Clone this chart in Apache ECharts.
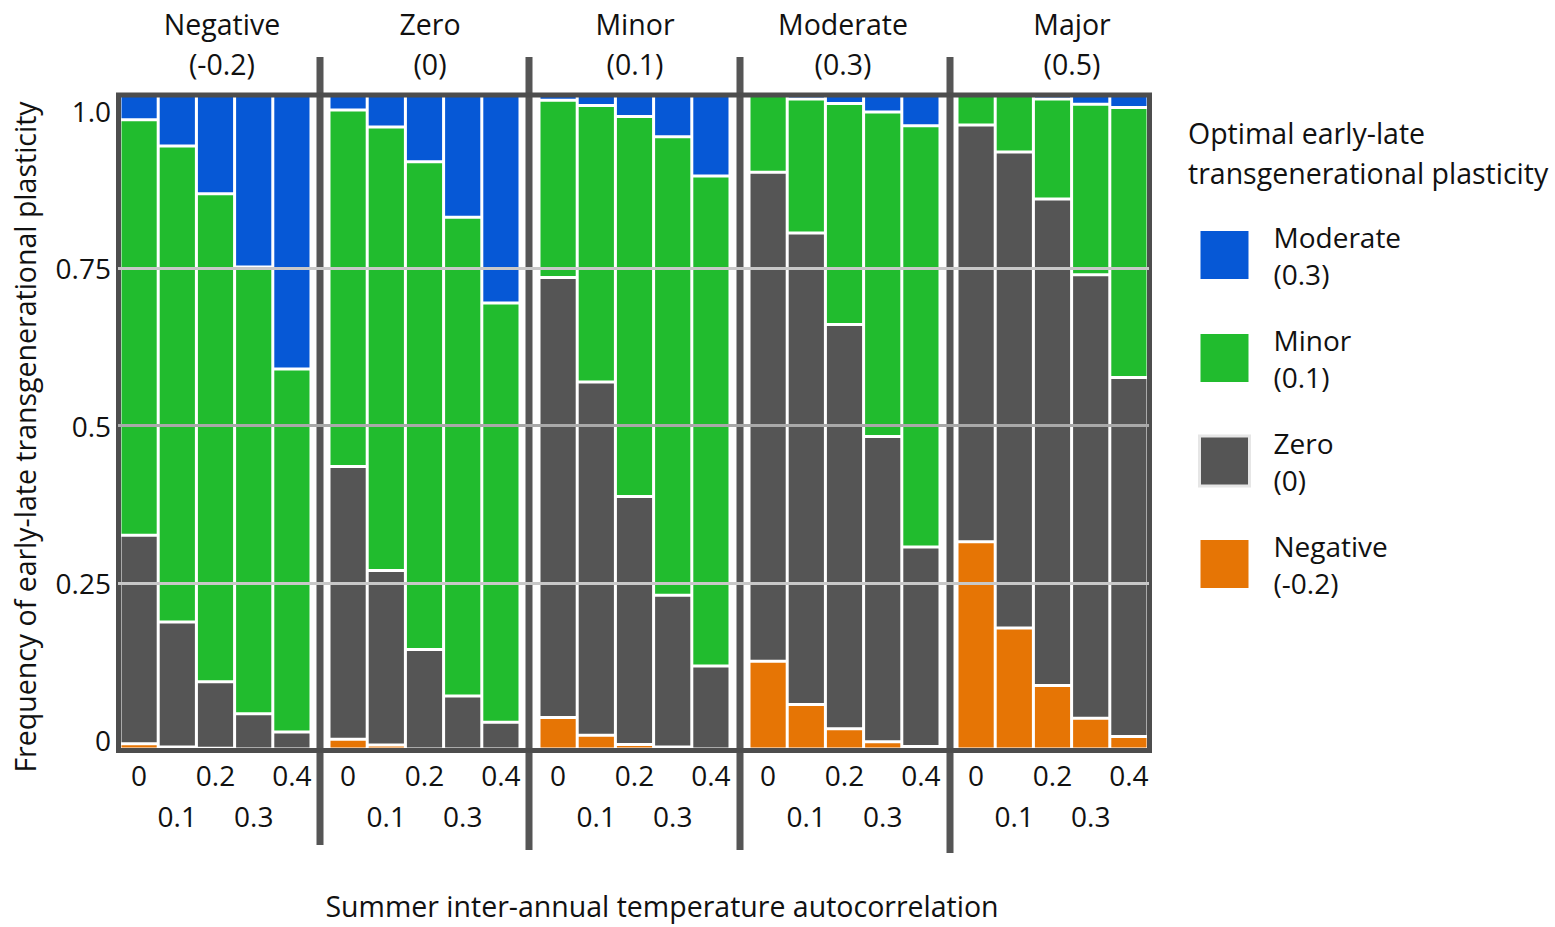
<!DOCTYPE html>
<html>
<head>
<meta charset="utf-8">
<script src="https://cdn.jsdelivr.net/npm/echarts@6/dist/echarts.min.js"></script>
<style>
  html, body { margin: 0; padding: 0; background: #fff; }
  #chart { width: 1555px; height: 927px; }
</style>
</head>
<body>
<div id="chart"></div>
<script>
// ---- Data ----
const panelNames = ['Negative\n(-0.2)', 'Zero\n(0)', 'Minor\n(0.1)', 'Moderate\n(0.3)', 'Major\n(0.5)'];
const autocorr = ['0', '0.1', '0.2', '0.3', '0.4'];
const categoryNames = ['Negative\n(-0.2)', 'Zero\n(0)', 'Minor\n(0.1)', 'Moderate\n(0.3)'];
const negativeShare = [
  [0.008, 0.003, 0.001, 0, 0],
  [0.015, 0.006, 0, 0, 0],
  [0.048, 0.021, 0.007, 0.003, 0],
  [0.134, 0.068, 0.031, 0.011, 0.004],
  [0.317, 0.185, 0.097, 0.047, 0.019]
];
const zeroShare = [
  [0.319, 0.191, 0.102, 0.054, 0.026],
  [0.417, 0.267, 0.152, 0.081, 0.041],
  [0.673, 0.540, 0.379, 0.232, 0.127],
  [0.748, 0.721, 0.618, 0.467, 0.305],
  [0.637, 0.728, 0.744, 0.678, 0.549]
];
const minorShare = [
  [0.635, 0.728, 0.746, 0.683, 0.555],
  [0.545, 0.678, 0.746, 0.732, 0.641],
  [0.271, 0.423, 0.581, 0.701, 0.749],
  [0.118, 0.205, 0.338, 0.496, 0.644],
  [0.046, 0.087, 0.153, 0.261, 0.413]
];
const moderateShare = [
  [0.038, 0.078, 0.151, 0.263, 0.419],
  [0.023, 0.049, 0.102, 0.187, 0.318],
  [0.008, 0.016, 0.033, 0.064, 0.124],
  [0, 0.006, 0.013, 0.026, 0.047],
  [0, 0, 0.006, 0.014, 0.019]
];
const yTickLabels = { 0: '0', 0.25: '0.25', 0.5: '0.5', 0.75: '0.75', 1: '1.0' };

// ---- Styling / layout ----
const FONT = 'Open Sans';
const colors = ['#e67505', '#555555', '#21bc2e', '#0658d6'];
const shares = [negativeShare, zeroShare, minorShare, moderateShare];
const panelLeft = [120, 329, 539, 749, 957];
const panelWidth = 191;
const plotTop = 95, plotHeight = 654;

const grids = [], xAxes = [], yAxes = [], series = [];
panelLeft.forEach((left, p) => {
  grids.push({ left: left, top: plotTop, width: panelWidth, height: plotHeight });
  xAxes.push({
    type: 'category', gridIndex: p, data: autocorr,
    axisLine: { show: false }, axisTick: { show: false },
    axisLabel: {
      interval: 0, margin: 5, fontSize: 28, lineHeight: 41, color: '#111', fontFamily: FONT,
      formatter: (v, i) => (i % 2 ? '\n' + v : v)
    },
    splitLine: { show: false }
  });
  yAxes.push({ type: 'value', gridIndex: p, min: 0, max: 1, show: false, splitLine: { show: false } });
  categoryNames.forEach((name, k) => {
    series.push({
      type: 'bar', name: name, stack: 'panel' + p,
      xAxisIndex: p, yAxisIndex: p,
      data: shares[k][p],
      barCategoryGap: '0%',
      itemStyle: { color: colors[k], borderColor: '#ffffff', borderWidth: 1.5 },
      emphasis: { disabled: true }
    });
  });
});

// overlay grid for gridlines & y tick labels (drawn above the bars as in the reference)
grids.push({ left: 118, top: 111, width: 1031, height: 629 });
xAxes.push({ type: 'value', gridIndex: 5, show: false, min: 0, max: 1, splitLine: { show: false } });
yAxes.push({
  type: 'value', gridIndex: 5, min: 0, max: 1, interval: 0.25, z: 6,
  axisLine: { show: false }, axisTick: { show: false },
  axisLabel: { margin: 7, fontSize: 28, color: '#111', fontFamily: FONT, formatter: v => yTickLabels[v] },
  splitLine: { show: true, lineStyle: { width: 3, color: ['rgba(0,0,0,0)', '#c8c8c8', '#a9a9a9', '#c8c8c8', 'rgba(0,0,0,0)'] } }
});

const titleCenters = [222, 430, 635, 843, 1072];
const graphics = [];
titleCenters.forEach((cx, i) => {
  graphics.push({
    type: 'text', x: cx, y: 4, z: 10,
    style: { text: panelNames[i], fontSize: 28.5, lineHeight: 40, fontFamily: FONT, fill: '#111', align: 'center', verticalAlign: 'top' }
  });
});
// separators
[[320, 845], [529, 850], [740, 850], [950, 853]].forEach(([x, y2]) => {
  graphics.push({ type: 'line', z: 3, shape: { x1: x, y1: 57, x2: x, y2: y2 }, style: { stroke: '#555555', lineWidth: 7 } });
});
// frame
graphics.push({ type: 'rect', z: 3, shape: { x: 118.5, y: 95, width: 1031, height: 655.5 }, style: { fill: 'none', stroke: '#4d4d4d', lineWidth: 5 } });
// axis titles
graphics.push({
  type: 'text', x: 662, y: 906, z: 10,
  style: { text: 'Summer inter-annual temperature autocorrelation', fontSize: 28.5, fontFamily: FONT, fill: '#111', align: 'center', verticalAlign: 'middle' }
});
graphics.push({
  type: 'text', x: 25, y: 437, rotation: Math.PI / 2, z: 10,
  style: { text: 'Frequency of early-late transgenerational plasticity', fontSize: 28.5, fontFamily: FONT, fill: '#111', align: 'center', verticalAlign: 'middle' }
});
graphics.push({
  type: 'text', x: 1188, y: 113, z: 10,
  style: { text: 'Optimal early-late\ntransgenerational plasticity', fontSize: 28.5, lineHeight: 40, fontFamily: FONT, fill: '#111', align: 'left', verticalAlign: 'top' }
});

const chart = echarts.init(document.getElementById('chart'), null, { renderer: 'svg' });
chart.setOption({
  animation: false,
  backgroundColor: '#ffffff',
  grid: grids,
  xAxis: xAxes,
  yAxis: yAxes,
  series: series,
  legend: {
    orient: 'vertical', left: 1198, top: 218, padding: 0,
    itemWidth: 50, itemHeight: 50, itemGap: 29,
    icon: 'rect',
    selectedMode: false,
    data: [
      { name: categoryNames[3] },
      { name: categoryNames[2] },
      { name: categoryNames[1], itemStyle: { borderColor: '#e6e6e6', borderWidth: 3 } },
      { name: categoryNames[0] }
    ],
    textStyle: { fontSize: 28, lineHeight: 37, fontFamily: FONT, color: '#111', padding: [0, 0, 0, 19] }
  },
  graphic: graphics
});
</script>
</body>
</html>
